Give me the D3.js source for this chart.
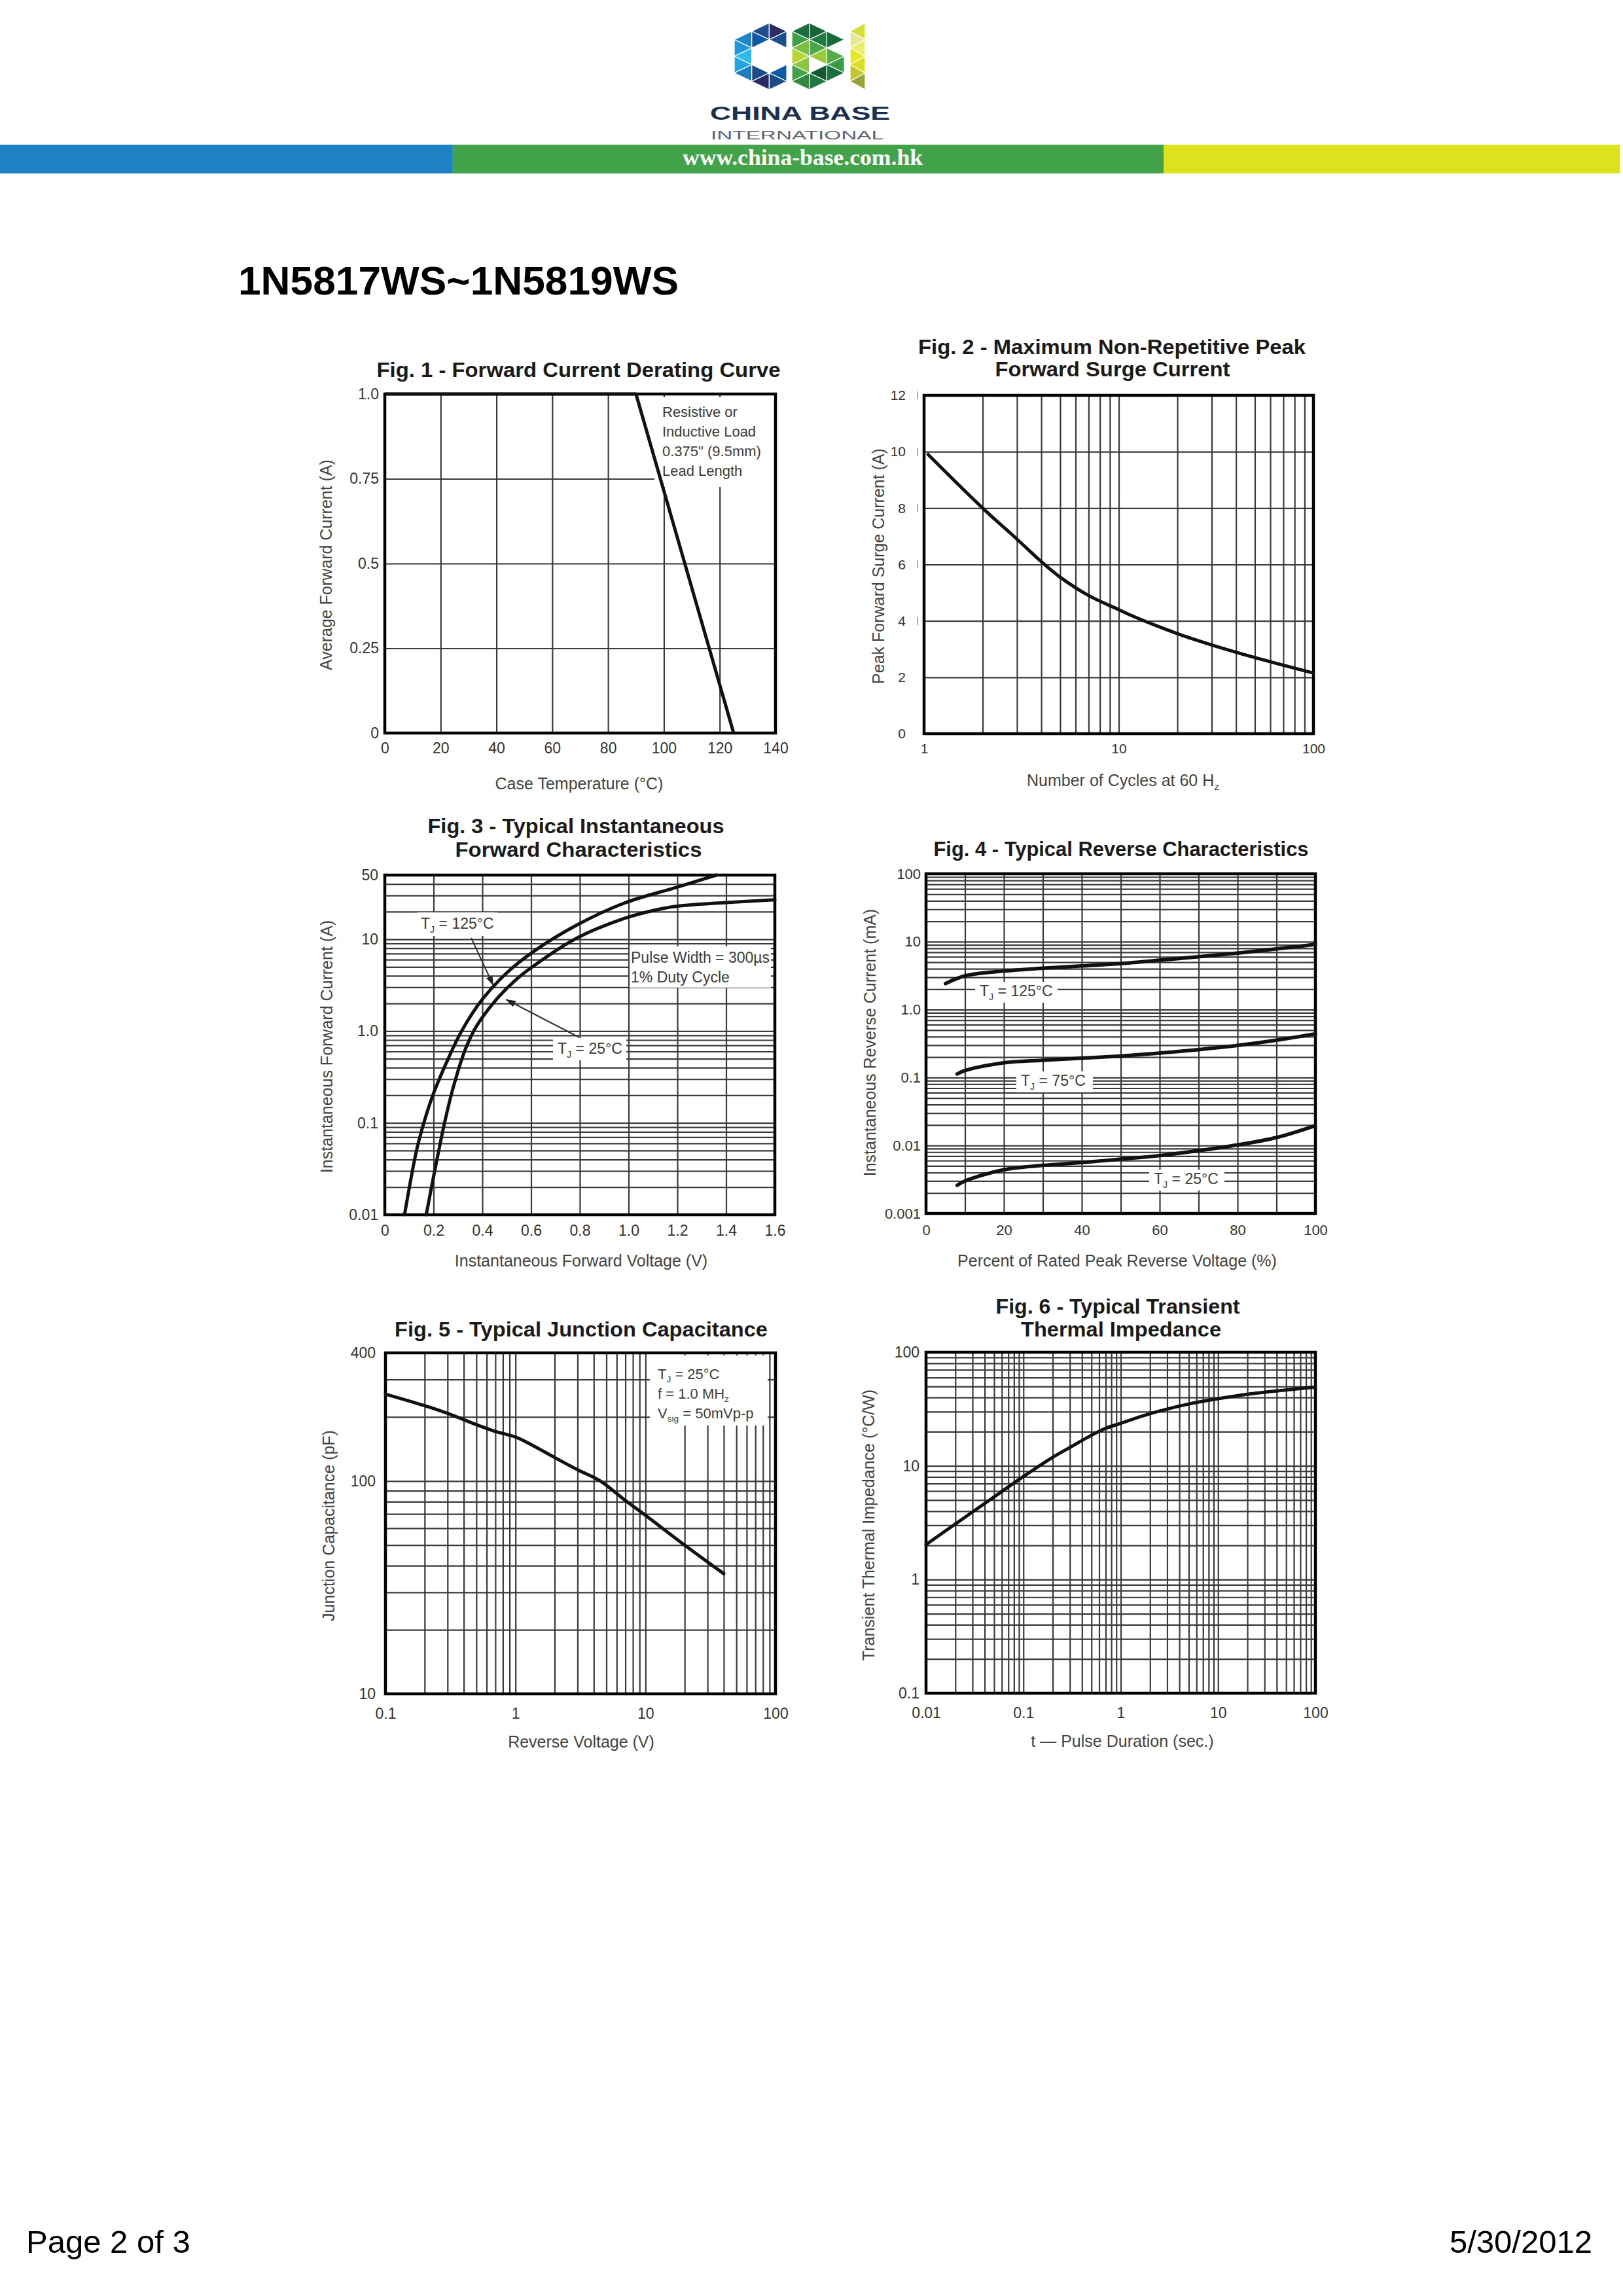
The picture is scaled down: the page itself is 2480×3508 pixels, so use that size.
<!DOCTYPE html>
<html>
<head>
<meta charset="utf-8">
<script src="https://cdnjs.cloudflare.com/ajax/libs/d3/7.8.5/d3.min.js"></script>
<style>
body { margin: 0; background: #fff; }
svg { display: block; }
text { font-family: "Liberation Sans", Arial, Helvetica, sans-serif; }
text.serif { font-family: "Liberation Serif", "Times New Roman", serif; }
</style>
</head>
<body>
<svg id="page" width="2480" height="3508"></svg>
<script>
// ---------- data ----------
// Fig. 1 - forward current derating
var fig1Temp = [0, 90, 125];
var fig1Current = [1.0, 1.0, 0];
var fig1XTicks = [0, 20, 40, 60, 80, 100, 120, 140];
var fig1XGrid = [20, 40, 60, 80, 100, 120];
var fig1YTicks = [0, 0.25, 0.5, 0.75, 1.0];
var fig1YLabels = ['0', '0.25', '0.5', '0.75', '1.0'];
var fig1YGrid = [0.25, 0.5, 0.75];

// Fig. 2 - peak forward surge current
var fig2Cycles = [1.05, 2, 3, 4, 5, 7, 10, 12, 20, 30, 50, 100];
var fig2Surge = [9.9, 8.0, 6.9, 6.1, 5.55, 4.9, 4.4, 4.15, 3.55, 3.15, 2.7, 2.15];
var fig2XTicks = [1, 10, 100];
var fig2YTicks = [0, 2, 4, 6, 8, 10, 12];
var fig2YGrid = [2, 4, 6, 8, 10];
var fig2Marks = [4, 6, 8, 10, 12];

// Fig. 3 - forward characteristics
var fig3Volt125 = [0.081, 0.13, 0.16, 0.2, 0.26, 0.315, 0.399, 0.5, 0.605, 0.788, 0.981, 1.2, 1.36];
var fig3Amp125 = [0.01, 0.05, 0.1, 0.21, 0.5, 1.0, 2.2, 4.3, 7.2, 14.3, 24.7, 37, 50];
var fig3Volt25 = [0.17, 0.2, 0.245, 0.28, 0.33, 0.375, 0.453, 0.53, 0.605, 0.788, 0.981, 1.106, 1.2, 1.4, 1.6];
var fig3Amp25 = [0.01, 0.026, 0.1, 0.24, 0.63, 1.12, 2.14, 3.47, 5.0, 10.3, 16.8, 20.7, 22.9, 25.1, 26.9];
var fig3XTicks = [0, 0.2, 0.4, 0.6, 0.8, 1.0, 1.2, 1.4, 1.6];
var fig3XLabels = ['0', '0.2', '0.4', '0.6', '0.8', '1.0', '1.2', '1.4', '1.6'];
var fig3XGrid = [0.2, 0.4, 0.6, 0.8, 1.0, 1.2, 1.4];
var fig3YTicks = [0.01, 0.1, 1, 10, 50];
var fig3YLabels = ['0.01', '0.1', '1.0', '10', '50'];

// Fig. 4 - reverse characteristics
var fig4Pct125 = [5, 10, 20, 30, 40, 50, 60, 70, 80, 90, 100];
var fig4I125 = [2.42, 3.14, 3.7, 4.07, 4.4, 4.76, 5.34, 6.0, 6.8, 7.85, 9.1];
var fig4Pct75 = [8, 10, 20, 30, 40, 50, 60, 70, 80, 90, 100];
var fig4I75 = [0.113, 0.127, 0.165, 0.18, 0.193, 0.208, 0.229, 0.258, 0.297, 0.355, 0.44];
var fig4Pct25 = [8, 10, 20, 30, 40, 50, 60, 70, 80, 90, 100];
var fig4I25 = [0.0026, 0.003, 0.0044, 0.0051, 0.0056, 0.0063, 0.0071, 0.0084, 0.0102, 0.0131, 0.0196];
var fig4XTicks = [0, 20, 40, 60, 80, 100];
var fig4XGrid = [10, 20, 30, 40, 50, 60, 70, 80, 90];
var fig4YTicks = [0.001, 0.01, 0.1, 1, 10, 100];
var fig4YLabels = ['0.001', '0.01', '0.1', '1.0', '10', '100'];

// Fig. 5 - junction capacitance
var fig5Volt = [0.1, 0.2, 0.3, 0.5, 0.7, 1, 1.3, 2, 3, 4.5, 7, 10, 20, 40];
var fig5Cap = [256, 226, 208, 184, 171, 161, 149, 129, 113, 100, 81, 69, 50, 36.7];
var fig5XTicks = [0.1, 1, 10, 100];
var fig5XLabels = ['0.1', '1', '10', '100'];
var fig5YTicks = [10, 100, 400];
var fig5YLabels = ['10', '100', '400'];

// Fig. 6 - transient thermal impedance
var fig6Time = [0.01, 0.02, 0.05, 0.1, 0.2, 0.3, 0.5, 0.7, 1, 2, 5, 10, 20, 50, 100];
var fig6Z = [2.03, 3.08, 5.33, 8.07, 11.9, 14.5, 18.6, 21.4, 23.7, 28.8, 35, 39, 42.7, 46.5, 49.3];
var fig6XTicks = [0.01, 0.1, 1, 10, 100];
var fig6XLabels = ['0.01', '0.1', '1', '10', '100'];
var fig6YTicks = [0.1, 1, 10, 100];
var fig6YLabels = ['0.1', '1', '10', '100'];

// minor grid values of a log axis, ends excluded
function logGrid(lo, hi) {
	var out = [];
	for (var e = Math.floor(Math.log10(lo)); e <= Math.ceil(Math.log10(hi)); e++) {
		for (var k = 1; k < 10; k++) {
			var v = +(k * Math.pow(10, e)).toPrecision(6);
			if (v > lo * 1.0001 && v < hi * 0.9999) out.push(v);
		}
	}
	return out;
}

var svg = d3.select('#page');
var FONT = '"Liberation Sans", Arial, Helvetica, sans-serif';

svg.append('defs').append('marker')
	.attr('id', 'arrow').attr('viewBox', '0 0 10 10')
	.attr('refX', 10).attr('refY', 5)
	.attr('markerWidth', 15).attr('markerHeight', 15)
	.attr('markerUnits', 'userSpaceOnUse').attr('orient', 'auto')
	.append('path').attr('d', 'M0,1.5L10,5L0,8.5z').attr('fill', '#222');

// ---------- header ----------
var logoC = [[0,2,'#1e86c6'],[0,3,'#2196d6'],[0,4,'#2bbcee'],[0,5,'#24a3de'],[0,6,'#1b7fc2'],
	[1,1,'#1f4e8e'],[1,2,'#0b5aa6'],[1,6,'#1d4a88'],[1,7,'#2a2a62'],
	[2,1,'#2c2b64'],[2,2,'#1b4f8e'],[2,6,'#0e5ba6'],[2,7,'#1d4b88']];
var logoB = [[0,1,'#1b6e3c'],[0,2,'#3f9f47'],[0,3,'#7bbf42'],[0,4,'#b9d433'],[0,5,'#8cc63f'],[0,6,'#43a348'],[0,7,'#2f8a40'],
	[1,1,'#17643a'],[1,2,'#1f7a3f'],[1,3,'#4aa84a'],[1,4,'#9acb3c'],[1,6,'#145a32'],[1,7,'#1f7a3f'],
	[2,2,'#176a3a'],[2,4,'#52ad49'],[2,5,'#3a9d46'],[2,6,'#1b7040']];
var logoI = [[0,1,'#d6df3a'],[0,2,'#e4e897'],[0,3,'#ebee6a'],[0,4,'#e6e82c'],[0,5,'#dadd22'],[0,6,'#c4c82c'],[0,7,'#99a43c']];

function logoLetter(cells, x0, colW, parity) {
	var y0 = 35, rowH = 12.75;
	svg.append('g').selectAll('path')
		.data(cells)
		.enter()
		.append('path')
		.attr('d', function(d){
			var xl = x0 + d[0] * colW, xr = xl + colW, m = d[1];
			var pts = ((d[0] + m + parity) % 2 === 1)
				? [[xl, m - 1], [xl, m + 1], [xr, m]]
				: [[xr, m - 1], [xr, m + 1], [xl, m]];
			return 'M' + pts.map(function(p){ return p[0] + ',' + (y0 + p[1] * rowH); }).join('L') + 'Z';
		})
		.attr('fill', function(d){ return d[2]; })
		.attr('stroke', '#fff')
		.attr('stroke-width', 1.3);
}
logoLetter(logoC, 1122, 26.7, 0);
logoLetter(logoB, 1210, 26.7, 1);
logoLetter(logoI, 1299, 23, 1);

svg.append('text').attr('x', 1085).attr('y', 183).text('CHINA BASE')
	.attr('font-size', 29).attr('font-weight', 'bold').attr('fill', '#1b2f4f')
	.attr('textLength', 275).attr('lengthAdjust', 'spacingAndGlyphs');
svg.append('text').attr('x', 1086).attr('y', 213).text('INTERNATIONAL')
	.attr('font-size', 18).attr('fill', '#5a6577')
	.attr('textLength', 264).attr('lengthAdjust', 'spacingAndGlyphs');

var bandX = [0, 691, 1778];
var bandW = [691, 1087, 697];
var bandColor = ['#1c82c4', '#43a34a', '#dde21f'];
svg.append('g').selectAll('rect')
	.data(bandX)
	.enter()
	.append('rect')
	.attr('x', function(d){ return d; })
	.attr('y', 221)
	.attr('width', function(d, i){ return bandW[i]; })
	.attr('height', 44)
	.attr('fill', function(d, i){ return bandColor[i]; });
svg.append('text').attr('class', 'serif').attr('x', 1043).attr('y', 252).text('www.china-base.com.hk')
	.attr('font-size', 33).attr('font-weight', 'bold').attr('fill', '#fff')
	.attr('textLength', 367).attr('lengthAdjust', 'spacingAndGlyphs');

svg.append('text').attr('x', 364).attr('y', 450).text('1N5817WS~1N5819WS')
	.attr('font-size', 62).attr('font-weight', 'bold').attr('fill', '#000')
	.attr('textLength', 673).attr('lengthAdjust', 'spacingAndGlyphs');

// ---------- footer ----------
svg.append('text').attr('x', 40).attr('y', 3442).text('Page 2 of 3')
	.attr('font-size', 49).attr('fill', '#000');
svg.append('text').attr('x', 2433).attr('y', 3442).text('5/30/2012')
	.attr('font-size', 49).attr('fill', '#000').attr('text-anchor', 'end');

// ---------- text with subscripts ----------
function richText(sel, parts, size) {
	var shift = size * 0.24, wasSub = false;
	parts.forEach(function(p){
		var ts = sel.append('tspan').text(p[0]);
		if (p[1]) { ts.attr('font-size', size * 0.62).attr('dy', shift); wasSub = true; }
		else if (wasSub) { ts.attr('dy', -shift); wasSub = false; }
	});
}

// ---------- one chart ----------
function chart(c) {
	var x = (c.xLog ? d3.scaleLog() : d3.scaleLinear()).domain(c.xDomain).range([c.left, c.right]);
	var y = (c.yLog ? d3.scaleLog() : d3.scaleLinear()).domain(c.yDomain).range([c.bottom, c.top]);
	var w = c.right - c.left, h = c.bottom - c.top;
	var g = svg.append('g');

	// grid
	g.append('g').attr('transform', 'translate(0,' + c.bottom + ')')
		.call(d3.axisBottom(x).tickValues(c.xGrid).tickSize(-h).tickFormat(''))
		.call(function(a){
			a.select('.domain').remove();
			a.selectAll('.tick line').attr('stroke', '#3a3a3a').attr('stroke-width', 2.2);
		});
	g.append('g').attr('transform', 'translate(' + c.left + ',0)')
		.call(d3.axisLeft(y).tickValues(c.yGrid).tickSize(-w).tickFormat(''))
		.call(function(a){
			a.select('.domain').remove();
			a.selectAll('.tick line').attr('stroke', '#3a3a3a').attr('stroke-width', 2.2);
		});

	// white boxes behind the notes
	(c.notes || []).forEach(function(n){
		g.append('rect').attr('x', n.box[0]).attr('y', n.box[1])
			.attr('width', n.box[2] - n.box[0]).attr('height', n.box[3] - n.box[1])
			.attr('fill', '#fff');
	});

	// frame
	g.append('rect').attr('x', c.left).attr('y', c.top).attr('width', w).attr('height', h)
		.attr('fill', 'none').attr('stroke', '#000').attr('stroke-width', 4.5);

	// curves
	c.series.forEach(function(s){
		g.append('path')
			.datum(d3.zip(s.x, s.y))
			.attr('d', d3.line()
				.x(function(d){ return x(d[0]); })
				.y(function(d){ return y(d[1]); })
				.curve(s.linear ? d3.curveLinear : d3.curveCatmullRom.alpha(0.5)))
			.attr('fill', 'none')
			.attr('stroke', '#111')
			.attr('stroke-width', c.curveWidth || 5)
			.attr('stroke-linejoin', 'round')
			.attr('stroke-linecap', s.linear ? 'butt' : 'round');
	});

	// notes
	(c.notes || []).forEach(function(n){
		n.lines.forEach(function(l){
			var t = g.append('text').attr('x', l.x).attr('y', l.y)
				.attr('font-size', n.size).attr('fill', '#3c3c3c');
			richText(t, l.parts, n.size);
		});
	});
	(c.arrows || []).forEach(function(a){
		g.append('line').attr('x1', a[0]).attr('y1', a[1]).attr('x2', a[2]).attr('y2', a[3])
			.attr('stroke', '#333').attr('stroke-width', 2).attr('marker-end', 'url(#arrow)');
	});
	if (c.marks) {
		g.append('g').selectAll('line')
			.data(c.marks.values)
			.enter()
			.append('line')
			.attr('x1', c.marks.x).attr('x2', c.marks.x)
			.attr('y1', function(d){ return y(d) - 6; })
			.attr('y2', function(d){ return y(d) + 6; })
			.attr('stroke', '#aaa').attr('stroke-width', 2);
	}

	// tick labels
	g.append('g').attr('transform', 'translate(0,' + c.bottom + ')')
		.call(d3.axisBottom(x).tickValues(c.xTicks)
			.tickFormat(function(d, i){ return c.xLabels[i]; })
			.tickSize(0).tickPadding(c.xPad))
		.attr('font-family', FONT).attr('font-size', c.tickFont)
		.call(function(a){ a.select('.domain').remove(); a.selectAll('text').attr('fill', '#333'); });
	g.append('g').attr('transform', 'translate(' + c.left + ',0)')
		.call(d3.axisLeft(y).tickValues(c.yTicks)
			.tickFormat(function(d, i){ return c.yLabels[i]; })
			.tickSize(0).tickPadding(c.yPad))
		.attr('font-family', FONT).attr('font-size', c.tickFont)
		.call(function(a){ a.select('.domain').remove(); a.selectAll('text').attr('fill', '#333'); });

	// axis titles
	var xt = g.append('text').attr('x', c.xTitle.x).attr('y', c.xTitle.y)
		.attr('text-anchor', 'middle').attr('font-size', 25).attr('fill', '#444');
	richText(xt, c.xTitle.parts, 25);
	g.append('text')
		.attr('transform', 'translate(' + c.yTitle.x + ',' + c.yTitle.y + ') rotate(-90)')
		.attr('dy', '0.35em').attr('text-anchor', 'middle')
		.attr('font-size', 25).attr('fill', '#444')
		.text(c.yTitle.text);

	// figure title
	c.title.forEach(function(t){
		g.append('text').attr('x', t.x).attr('y', t.y).text(t.text)
			.attr('text-anchor', 'middle').attr('font-size', 32).attr('font-weight', 'bold')
			.attr('fill', '#1a1a1a')
			.attr('textLength', t.len).attr('lengthAdjust', 'spacingAndGlyphs');
	});
}

// Fig. 1
chart({
	left: 588, right: 1185, top: 602, bottom: 1120,
	xDomain: [0, 140], yDomain: [0, 1],
	xGrid: fig1XGrid, yGrid: fig1YGrid,
	xTicks: fig1XTicks, xLabels: fig1XTicks.map(String),
	yTicks: fig1YTicks, yLabels: fig1YLabels,
	xPad: 15, yPad: 9, tickFont: 23,
	series: [{x: fig1Temp, y: fig1Current, linear: true}],
	notes: [{box: [1000, 607, 1183, 744], size: 22, lines: [
		{x: 1012, y: 637, parts: [['Resistive or']]},
		{x: 1012, y: 667, parts: [['Inductive Load']]},
		{x: 1012, y: 697, parts: [['0.375" (9.5mm)']]},
		{x: 1012, y: 727, parts: [['Lead Length']]}
	]}],
	xTitle: {x: 885, y: 1206, parts: [['Case Temperature (\u00B0C)']]},
	yTitle: {x: 498, y: 863, text: 'Average Forward Current (A)'},
	title: [{text: 'Fig. 1 - Forward Current Derating Curve', x: 884, y: 576, len: 617}]
});

// Fig. 2
chart({
	left: 1412, right: 2007, top: 604, bottom: 1121,
	xLog: true, xDomain: [1, 100], yDomain: [0, 12],
	xGrid: logGrid(1, 100), yGrid: fig2YGrid,
	xTicks: fig2XTicks, xLabels: fig2XTicks.map(String),
	yTicks: fig2YTicks, yLabels: fig2YTicks.map(String),
	xPad: 15, yPad: 28, tickFont: 21,
	marks: {x: 1402, values: fig2Marks},
	series: [{x: fig2Cycles, y: fig2Surge}],
	xTitle: {x: 1716, y: 1201, parts: [['Number of Cycles at 60 H'], ['z', true]]},
	yTitle: {x: 1342, y: 865, text: 'Peak Forward Surge Current (A)'},
	title: [
		{text: 'Fig. 2 - Maximum Non-Repetitive Peak', x: 1699, y: 541, len: 592},
		{text: 'Forward Surge Current', x: 1700, y: 575, len: 359}
	]
});

// Fig. 3
chart({
	left: 588, right: 1184, top: 1337, bottom: 1856,
	yLog: true, xDomain: [0, 1.6], yDomain: [0.01, 50],
	xGrid: fig3XGrid, yGrid: logGrid(0.01, 50),
	xTicks: fig3XTicks, xLabels: fig3XLabels,
	yTicks: fig3YTicks, yLabels: fig3YLabels,
	xPad: 16, yPad: 10, tickFont: 23,
	series: [{x: fig3Volt125, y: fig3Amp125}, {x: fig3Volt25, y: fig3Amp25}],
	notes: [
		{box: [638, 1394, 760, 1430], size: 23, lines: [
			{x: 643, y: 1419, parts: [['T'], ['J', true], [' = 125\u00B0C']]}]},
		{box: [962, 1446, 1178, 1509], size: 23, lines: [
			{x: 964, y: 1471, parts: [['Pulse Width = 300\u00B5s']]},
			{x: 964, y: 1501, parts: [['1% Duty Cycle']]}]},
		{box: [845, 1586, 957, 1620], size: 23, lines: [
			{x: 852, y: 1610, parts: [['T'], ['J', true], [' = 25\u00B0C']]}]}
	],
	arrows: [[720, 1433, 754, 1506], [885, 1585, 773, 1527]],
	xTitle: {x: 888, y: 1935, parts: [['Instantaneous Forward Voltage (V)']]},
	yTitle: {x: 499, y: 1599, text: 'Instantaneous Forward Current (A)'},
	title: [
		{text: 'Fig. 3 - Typical Instantaneous', x: 880, y: 1273, len: 453},
		{text: 'Forward Characteristics', x: 884, y: 1309, len: 377}
	]
});

// Fig. 4
chart({
	left: 1415, right: 2010, top: 1335, bottom: 1854,
	yLog: true, xDomain: [0, 100], yDomain: [0.001, 100],
	xGrid: fig4XGrid, yGrid: logGrid(0.001, 100),
	xTicks: fig4XTicks, xLabels: fig4XTicks.map(String),
	yTicks: fig4YTicks, yLabels: fig4YLabels,
	xPad: 17, yPad: 8, tickFont: 22,
	curveWidth: 5.5,
	series: [{x: fig4Pct125, y: fig4I125}, {x: fig4Pct75, y: fig4I75}, {x: fig4Pct25, y: fig4I25}],
	notes: [
		{box: [1490, 1500, 1616, 1532], size: 23, lines: [
			{x: 1497, y: 1522, parts: [['T'], ['J', true], [' = 125\u00B0C']]}]},
		{box: [1553, 1637, 1670, 1669], size: 23, lines: [
			{x: 1560, y: 1659, parts: [['T'], ['J', true], [' = 75\u00B0C']]}]},
		{box: [1756, 1787, 1871, 1819], size: 23, lines: [
			{x: 1763, y: 1809, parts: [['T'], ['J', true], [' = 25\u00B0C']]}]}
	],
	xTitle: {x: 1707, y: 1935, parts: [['Percent of Rated Peak Reverse Voltage (%)']]},
	yTitle: {x: 1329, y: 1593, text: 'Instantaneous Reverse Current (mA)'},
	title: [{text: 'Fig. 4 - Typical Reverse Characteristics', x: 1713, y: 1308, len: 573}]
});

// Fig. 5
chart({
	left: 589, right: 1185, top: 2067, bottom: 2588,
	xLog: true, yLog: true, xDomain: [0.1, 100], yDomain: [10, 400],
	xGrid: logGrid(0.1, 100), yGrid: logGrid(10, 400),
	xTicks: fig5XTicks, xLabels: fig5XLabels,
	yTicks: fig5YTicks, yLabels: fig5YLabels,
	xPad: 22, yPad: 15, tickFont: 23,
	series: [{x: fig5Volt, y: fig5Cap}],
	notes: [{box: [993, 2071, 1173, 2178], size: 22, lines: [
		{x: 1005, y: 2107, parts: [['T'], ['J', true], [' = 25\u00B0C']]},
		{x: 1005, y: 2137, parts: [['f = 1.0 MH'], ['z', true]]},
		{x: 1005, y: 2167, parts: [['V'], ['sig', true], [' = 50mVp-p']]}
	]}],
	xTitle: {x: 888, y: 2670, parts: [['Reverse Voltage (V)']]},
	yTitle: {x: 502, y: 2331, text: 'Junction Capacitance (pF)'},
	title: [{text: 'Fig. 5 - Typical Junction Capacitance', x: 888, y: 2042, len: 570}]
});

// Fig. 6
chart({
	left: 1415, right: 2010, top: 2066, bottom: 2587,
	xLog: true, yLog: true, xDomain: [0.01, 100], yDomain: [0.1, 100],
	xGrid: logGrid(0.01, 100), yGrid: logGrid(0.1, 100),
	xTicks: fig6XTicks, xLabels: fig6XLabels,
	yTicks: fig6YTicks, yLabels: fig6YLabels,
	xPad: 22, yPad: 10, tickFont: 23,
	series: [{x: fig6Time, y: fig6Z}],
	xTitle: {x: 1715, y: 2669, parts: [['t \u2014 Pulse Duration (sec.)']]},
	yTitle: {x: 1327, y: 2330, text: 'Transient Thermal Impedance (\u00B0C/W)'},
	title: [
		{text: 'Fig. 6 - Typical Transient', x: 1708, y: 2007, len: 373},
		{text: 'Thermal Impedance', x: 1713, y: 2042, len: 306}
	]
});
</script>
</body>
</html>
